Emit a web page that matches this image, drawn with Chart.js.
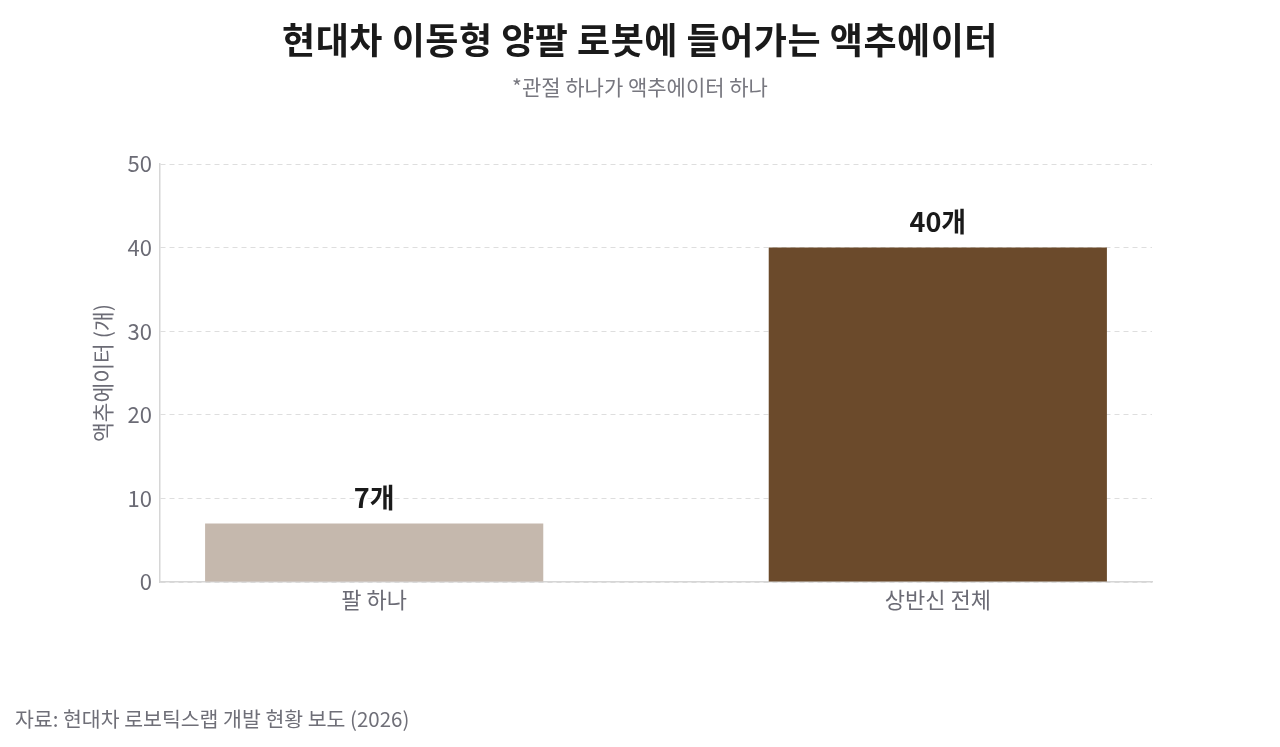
<!DOCTYPE html>
<html><head><meta charset="utf-8">
<script src="https://cdn.jsdelivr.net/npm/chart.js@4"></script>
<style>
html,body{margin:0;padding:0;background:#fff;width:1280px;height:747px;overflow:hidden;font-family:"Noto Sans CJK KR","Noto Sans",sans-serif;}
#wrap{position:absolute;left:0;top:0;width:1280px;height:747px;}
#title{position:absolute;left:0;width:1280px;top:38px;transform:translateY(-50%);text-align:center;font-size:36px;line-height:1;font-weight:700;color:#1a1a1a;letter-spacing:0.5px;}
#sub{position:absolute;left:0;width:1280px;top:86px;transform:translateY(-50%);line-height:1;text-align:center;font-size:21px;color:#77777f;}
#src{position:absolute;left:15px;top:718px;transform:translateY(-50%);line-height:1;font-size:20.5px;color:#6f6f78;}
</style></head><body>
<div id="wrap"><canvas id="c" width="1280" height="747"></canvas></div>
<div id="title">현대차 이동형 양팔 로봇에 들어가는 액추에이터</div>
<div id="sub">*관절 하나가 액추에이터 하나</div>
<div id="src">자료: 현대차 로보틱스랩 개발 현황 보도 (2026)</div>
<script>
const categories = ["팔 하나", "상반신 전체"];
const values = [7, 40];
const valueLabels = ["7개", "40개"];
const barColors = ["#C5B8AD", "#6B4A2B"];
const yTicks = [0, 10, 20, 30, 40, 50];
const yTitle = "액추에이터 (개)";

const FONT = '"Noto Sans CJK KR", sans-serif';

const labelPlugin = {
  id: 'valLabels',
  afterDatasetsDraw(chart) {
    const ctx = chart.ctx;
    const meta = chart.getDatasetMeta(0);
    ctx.save();
    ctx.font = '700 27px ' + FONT;
    ctx.fillStyle = '#1a1a1a';
    ctx.textAlign = 'center';
    ctx.textBaseline = 'middle';
    meta.data.forEach((bar, i) => {
      ctx.fillText(valueLabels[i], bar.x, bar.y - 26);
    });
    ctx.restore();
  }
};

new Chart(document.getElementById('c'), {
  type: 'bar',
  data: {
    datasets: [{
      data: values.map((v, i) => ({ x: i, y: v })),
      backgroundColor: barColors, borderWidth: 0,
      barPercentage: 0.6, categoryPercentage: 1.0
    }]
  },
  options: {
    responsive: false,
    animation: false,
    devicePixelRatio: 1,
    layout: { padding: { left: 0, top: 164, right: 128, bottom: 105 } },
    plugins: { legend: { display: false }, tooltip: { enabled: false } },
    scales: {
      x: {
        type: 'linear',
        offset: false,
        min: -0.38, max: 1.38,
        afterFit(s) { s.height = 60; },
        afterBuildTicks(s) { s.ticks = categories.map((c, i) => ({ value: i })); },
        grid: { display: false, drawTicks: false },
        border: { display: true, color: '#d6d6d6', width: 1.5 },
        ticks: { padding: 4, color: '#6b6b75', font: { family: FONT, size: 22 },
                 callback: (v) => categories[v] }
      },
      y: {
        min: 0, max: 50,
        afterFit(s) { s.width = 160; },
        afterBuildTicks(s) { s.ticks = yTicks.map(v => ({ value: v })); },
        grid: { color: '#dedede', drawTicks: false },
        border: { display: true, color: '#d6d6d6', width: 1.5, dash: [5, 4] },
        ticks: { padding: 8, color: '#6b6b75', font: { family: FONT, size: 22 } },
        title: { display: true, text: yTitle, color: '#6b6b75', padding: { top: 90, bottom: 0 }, font: { family: FONT, size: 21.5 } }
      }
    }
  },
  plugins: [labelPlugin]
});
</script>
</body></html>
